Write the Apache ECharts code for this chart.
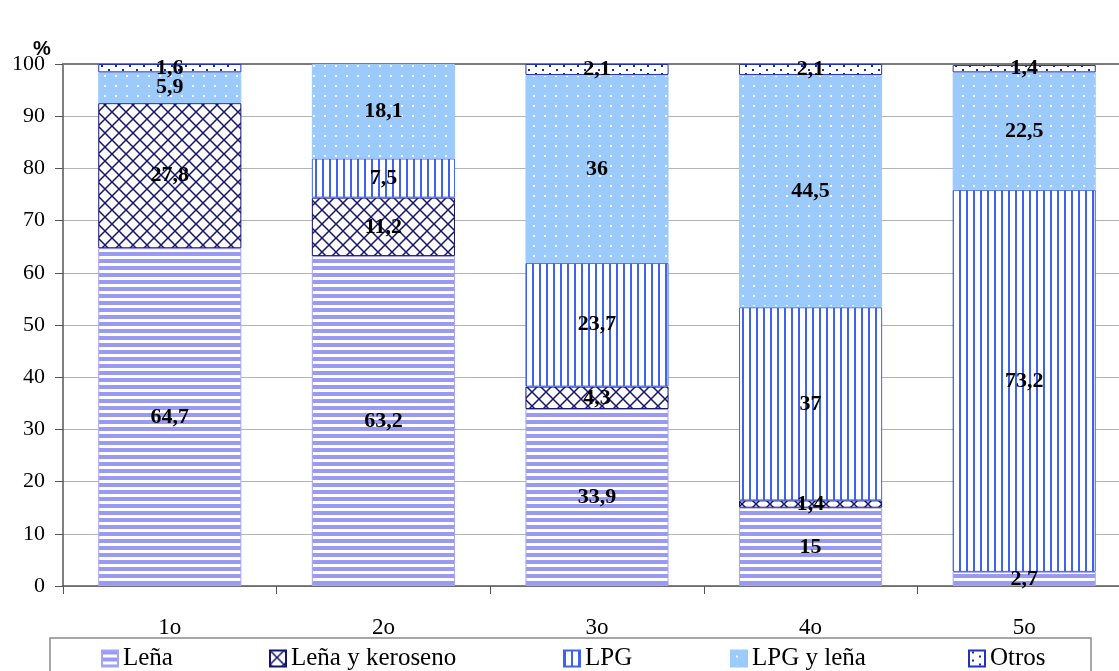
<!DOCTYPE html>
<html>
<head>
<meta charset="utf-8">
<script src="https://cdn.jsdelivr.net/npm/echarts@6/dist/echarts.min.js"></script>
<style>
  html, body { margin: 0; padding: 0; background: #fff; overflow: hidden; }
  #chart { width: 1150px; height: 671px; }
</style>
</head>
<body>
<div id="chart"></div>
<script>
// categories and values (null = segment not drawn)
var categories = ['1o', '2o', '3o', '4o', '5o'];
var lena = [64.7, 63.2, 33.9, 15, 2.7];
var lenaKeroseno = [27.8, 11.2, 4.3, 1.4, null];
var lpg = [null, 7.5, 23.7, 37, 73.2];
var lpgLena = [5.9, 18.1, 36, 44.5, 22.5];
var otros = [1.6, null, 2.1, 2.1, 1.4];
var yTicks = [0, 10, 20, 30, 40, 50, 60, 70, 80, 90, 100];

// canvas patterns like the excel fills
function pat(w, h, draw) {
    var c = document.createElement('canvas');
    c.width = w; c.height = h;
    var g = c.getContext('2d');
    draw(g);
    return { image: c, repeat: 'repeat' };
}
var fillLena = pat(1, 7, function (g) {
    g.fillStyle = '#fff'; g.fillRect(0, 0, 1, 7);
    g.fillStyle = '#9a9af2'; g.fillRect(0, 0, 1, 4);
});
var fillKero = pat(14, 14, function (g) {
    g.fillStyle = '#fcfcfc'; g.fillRect(0, 0, 14, 14);
    g.strokeStyle = '#14146e'; g.lineWidth = 1.5;
    g.beginPath();
    g.moveTo(0, 0); g.lineTo(14, 14);
    g.moveTo(14, 0); g.lineTo(0, 14);
    g.stroke();
});
var fillLpg = pat(7, 1, function (g) {
    g.fillStyle = '#fff'; g.fillRect(0, 0, 7, 1);
    g.fillStyle = '#3f63ee'; g.fillRect(0, 0, 2, 1);
});
var fillLpgLena = pat(11, 10, function (g) {
    g.fillStyle = '#9ccbfb'; g.fillRect(0, 0, 11, 10);
    g.fillStyle = '#f4f9ff'; g.fillRect(5, 5, 2, 2);
});
var fillOtros = pat(14, 8, function (g) {
    g.fillStyle = '#fff'; g.fillRect(0, 0, 14, 8);
    g.fillStyle = '#1a2a9a';
    g.fillRect(3, 1, 2, 2);
    g.fillRect(10, 5, 2, 2);
});

var labelFmt = function (p) { return String(p.value).replace('.', ','); };
var lbl = {
    show: true, position: 'inside', color: '#000',
    fontFamily: 'Liberation Serif', fontWeight: 'bold', fontSize: 22,
    formatter: labelFmt
};

function bar(name, data, fill, border) {
    return {
        name: name, type: 'bar', stack: 'total', data: data,
        barWidth: '67%',
        itemStyle: { color: fill, borderColor: border, borderWidth: 1 },
        label: lbl,
        emphasis: { disabled: true }
    };
}

var legendTxt = { fontFamily: 'Liberation Serif', fontSize: 25, color: '#000' };
function leg(name, x) {
    return {
        data: [name], left: x, top: 641, itemWidth: 16, itemHeight: 16,
        icon: 'rect', itemGap: 5, textStyle: legendTxt, selectedMode: false
    };
}

var chart = echarts.init(document.getElementById('chart'));
chart.setOption({
    animation: false,
    grid: { left: 63, top: 64, width: 1068, height: 522 },
    legend: [
        leg('Leña', 96),
        leg('Leña y keroseno', 264),
        leg('LPG', 558),
        leg('LPG y leña', 725),
        leg('Otros', 963)
    ],
    graphic: [
        { type: 'rect', shape: { x: 50, y: 638, width: 1041, height: 50 },
          style: { fill: 'none', stroke: '#8a8a8a', lineWidth: 1.5 }, z: -1 },
        { type: 'text', left: 33, top: 39,
          style: { text: '%', font: 'bold 20px "Liberation Sans"', fill: '#000' } }
    ],
    xAxis: [{
        type: 'category', data: categories,
        axisLine: { lineStyle: { color: '#555', width: 1.5 } },
        axisTick: { show: true, length: 8, interval: 0, lineStyle: { color: '#555' } },
        axisLabel: { margin: 30, fontFamily: 'Liberation Serif', fontSize: 23, color: '#000' }
    }, {
        type: 'category', data: categories, position: 'top',
        axisLine: { lineStyle: { color: '#7a7a7a', width: 2 } },
        axisTick: { show: false }, axisLabel: { show: false }
    }],
    yAxis: {
        type: 'value', min: yTicks[0], max: yTicks[yTicks.length - 1], interval: 10,
        axisLine: { show: true, lineStyle: { color: '#555', width: 1.5 } },
        axisTick: { show: true, length: 8, lineStyle: { color: '#555' } },
        axisLabel: { margin: 18, fontFamily: 'Liberation Serif', fontSize: 22, color: '#000' },
        splitLine: { lineStyle: { color: '#b4b4b4', width: 1 } }
    },
    series: [
        bar('Leña', lena, fillLena, '#a5a5f5'),
        bar('Leña y keroseno', lenaKeroseno, fillKero, '#14146e'),
        bar('LPG', lpg, fillLpg, '#3f63ee'),
        bar('LPG y leña', lpgLena, fillLpgLena, '#9ccbfb'),
        bar('Otros', otros, fillOtros, '#2233bb')
    ]
});
</script>
</body>
</html>
